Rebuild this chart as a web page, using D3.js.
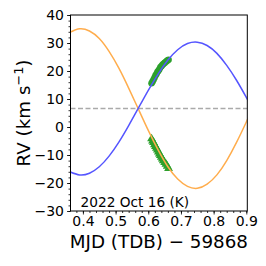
<!DOCTYPE html>
<html>
<head>
<meta charset="utf-8">
<script src="https://cdn.jsdelivr.net/npm/d3@7"></script>
<style>
  body { margin: 0; background: #fff; }
  text { font-family: "DejaVu Sans", sans-serif; fill: #000; }
</style>
</head>
<body>
<div id="chart"></div>
<script>
// model curves
var modelX = [0.36,0.39,0.42,0.45,0.48,0.51,0.54,0.57,0.60,0.63,0.66,0.69,0.72,0.75,0.78,0.81,0.84,0.87,0.90,0.93];
var modelBlue = [-16.0,-17.1,-16.5,-14.2,-10.4,-5.4,0.5,6.8,13.1,18.9,23.9,27.6,29.8,30.3,29.1,26.3,22.0,16.7,10.6,4.3];
var modelOrange = [33.8,35.1,34.3,31.6,27.0,21.0,13.9,6.35,-1.2,-8.2,-14.2,-18.6,-21.2,-21.9,-20.4,-17.1,-12.0,-5.5,1.8,9.4];

// systemic velocity
var gamma = 6.6;

// measured RVs
var obsX = [0.610,0.613,0.616,0.619,0.622,0.625,0.628,0.631,0.634,0.637,0.640,0.643,0.646,0.650,0.654,0.658,0.662];
var obsRV1 = [15.6,16.2,16.9,17.6,18.4,18.9,19.6,20.1,20.6,21.3,21.7,22.1,22.5,22.9,23.3,23.7,24.0];
var obsRV2 = [-4.2,-5.0,-5.5,-6.3,-6.9,-7.6,-8.2,-8.9,-9.6,-10.2,-10.8,-11.4,-12.0,-12.7,-13.3,-14.0,-14.8];

var xTicks = [0.4,0.5,0.6,0.7,0.8,0.9];
var yTicks = [-30,-20,-10,0,10,20,30,40];

// setup dimensions
var W = 266, H = 266,
    plotL = 70.5, plotR = 247.3, plotT = 15, plotB = 211;

var svg = d3.select("#chart").append("svg")
  .attr("width", W)
  .attr("height", H);

svg.append("rect").attr("width", W).attr("height", H).attr("fill", "#fff");

// scales
var x = d3.scaleLinear().domain([0.362, 0.903]).range([plotL, plotR]);
var y = d3.scaleLinear().domain([-30, 40]).range([plotB, plotT]);

svg.append("clipPath").attr("id", "clip")
  .append("rect")
  .attr("x", plotL).attr("y", plotT)
  .attr("width", plotR - plotL).attr("height", plotB - plotT);

var plot = svg.append("g").attr("clip-path", "url(#clip)");

// gamma line
plot.append("line")
  .attr("x1", plotL).attr("x2", plotR)
  .attr("y1", y(gamma)).attr("y2", y(gamma))
  .attr("stroke", "#aaaaaa")
  .attr("stroke-width", 1.5)
  .attr("stroke-dasharray", "5,2.5");

// observed points
plot.selectAll("circle.obs")
  .data(obsX)
  .enter().append("circle")
  .attr("class", "obs")
  .attr("cx", function(d) { return x(d); })
  .attr("cy", function(d, i) { return y(obsRV1[i]); })
  .attr("r", 3.3)
  .attr("fill", "#2ca02c");

plot.selectAll("path.tri")
  .data(obsX)
  .enter().append("path")
  .attr("class", "tri")
  .attr("d", d3.symbol().type(d3.symbolTriangle).size(34))
  .attr("transform", function(d, i) { return "translate(" + x(d) + "," + y(obsRV2[i]) + ")"; })
  .attr("fill", "#2ca02c");

// model curves
var line = d3.line()
  .x(function(d) { return x(d[0]); })
  .y(function(d) { return y(d[1]); })
  .curve(d3.curveNatural);

plot.append("path")
  .datum(d3.zip(modelX, modelOrange))
  .attr("d", line)
  .attr("fill", "none")
  .attr("stroke", "#ffad4d")
  .attr("stroke-width", 1.5);

plot.append("path")
  .datum(d3.zip(modelX, modelBlue))
  .attr("d", line)
  .attr("fill", "none")
  .attr("stroke", "#5555ff")
  .attr("stroke-width", 1.5);

// axes
var xAxis = svg.append("g")
  .attr("transform", "translate(0," + plotB + ")")
  .call(d3.axisBottom(x).tickValues(xTicks).tickSize(3.5).tickPadding(2).tickFormat(d3.format(".1f")));
var xMinor = svg.append("g")
  .attr("transform", "translate(0," + plotB + ")")
  .call(d3.axisBottom(x).tickValues(d3.range(0.38, 0.903, 0.02)).tickSize(2).tickFormat(""));

var yAxis = svg.append("g")
  .attr("transform", "translate(" + plotL + ",0)")
  .call(d3.axisLeft(y).tickValues(yTicks).tickSize(3.5).tickPadding(3).tickFormat(function(d) { return d < 0 ? "\u2212" + Math.abs(d) : d; }));
var yMinor = svg.append("g")
  .attr("transform", "translate(" + plotL + ",0)")
  .call(d3.axisLeft(y).tickValues(d3.range(-30, 41, 2)).tickSize(2).tickFormat(""));

[xAxis, xMinor, yAxis, yMinor].forEach(function(g) {
  g.select(".domain").remove();
  g.selectAll("line").attr("stroke", "#000").attr("stroke-width", 0.8);
  g.selectAll("text").attr("font-size", 14).attr("font-family", "DejaVu Sans").attr("fill", "#000");
});

// frame
svg.append("rect")
  .attr("x", plotL).attr("y", plotT)
  .attr("width", plotR - plotL).attr("height", plotB - plotT)
  .attr("fill", "none")
  .attr("stroke", "#000")
  .attr("stroke-width", 1);

// labels
svg.append("text")
  .attr("x", (plotL + plotR) / 2)
  .attr("y", 247.5)
  .attr("text-anchor", "middle")
  .attr("font-size", 18.3)
  .text("MJD (TDB) \u2212 59868");

var yl = svg.append("text")
  .attr("transform", "translate(29.5," + (plotT + plotB) / 2 + ") rotate(-90)")
  .attr("text-anchor", "middle")
  .attr("font-size", 18.3);
yl.append("tspan").text("RV (km s");
yl.append("tspan").attr("dy", -7).attr("font-size", 12.8).text("\u22121");
yl.append("tspan").attr("dy", 7).text(")");

svg.append("text")
  .attr("x", 80.5)
  .attr("y", 206.5)
  .attr("font-size", 13.7)
  .text("2022 Oct 16 (K)");
</script>
</body>
</html>
